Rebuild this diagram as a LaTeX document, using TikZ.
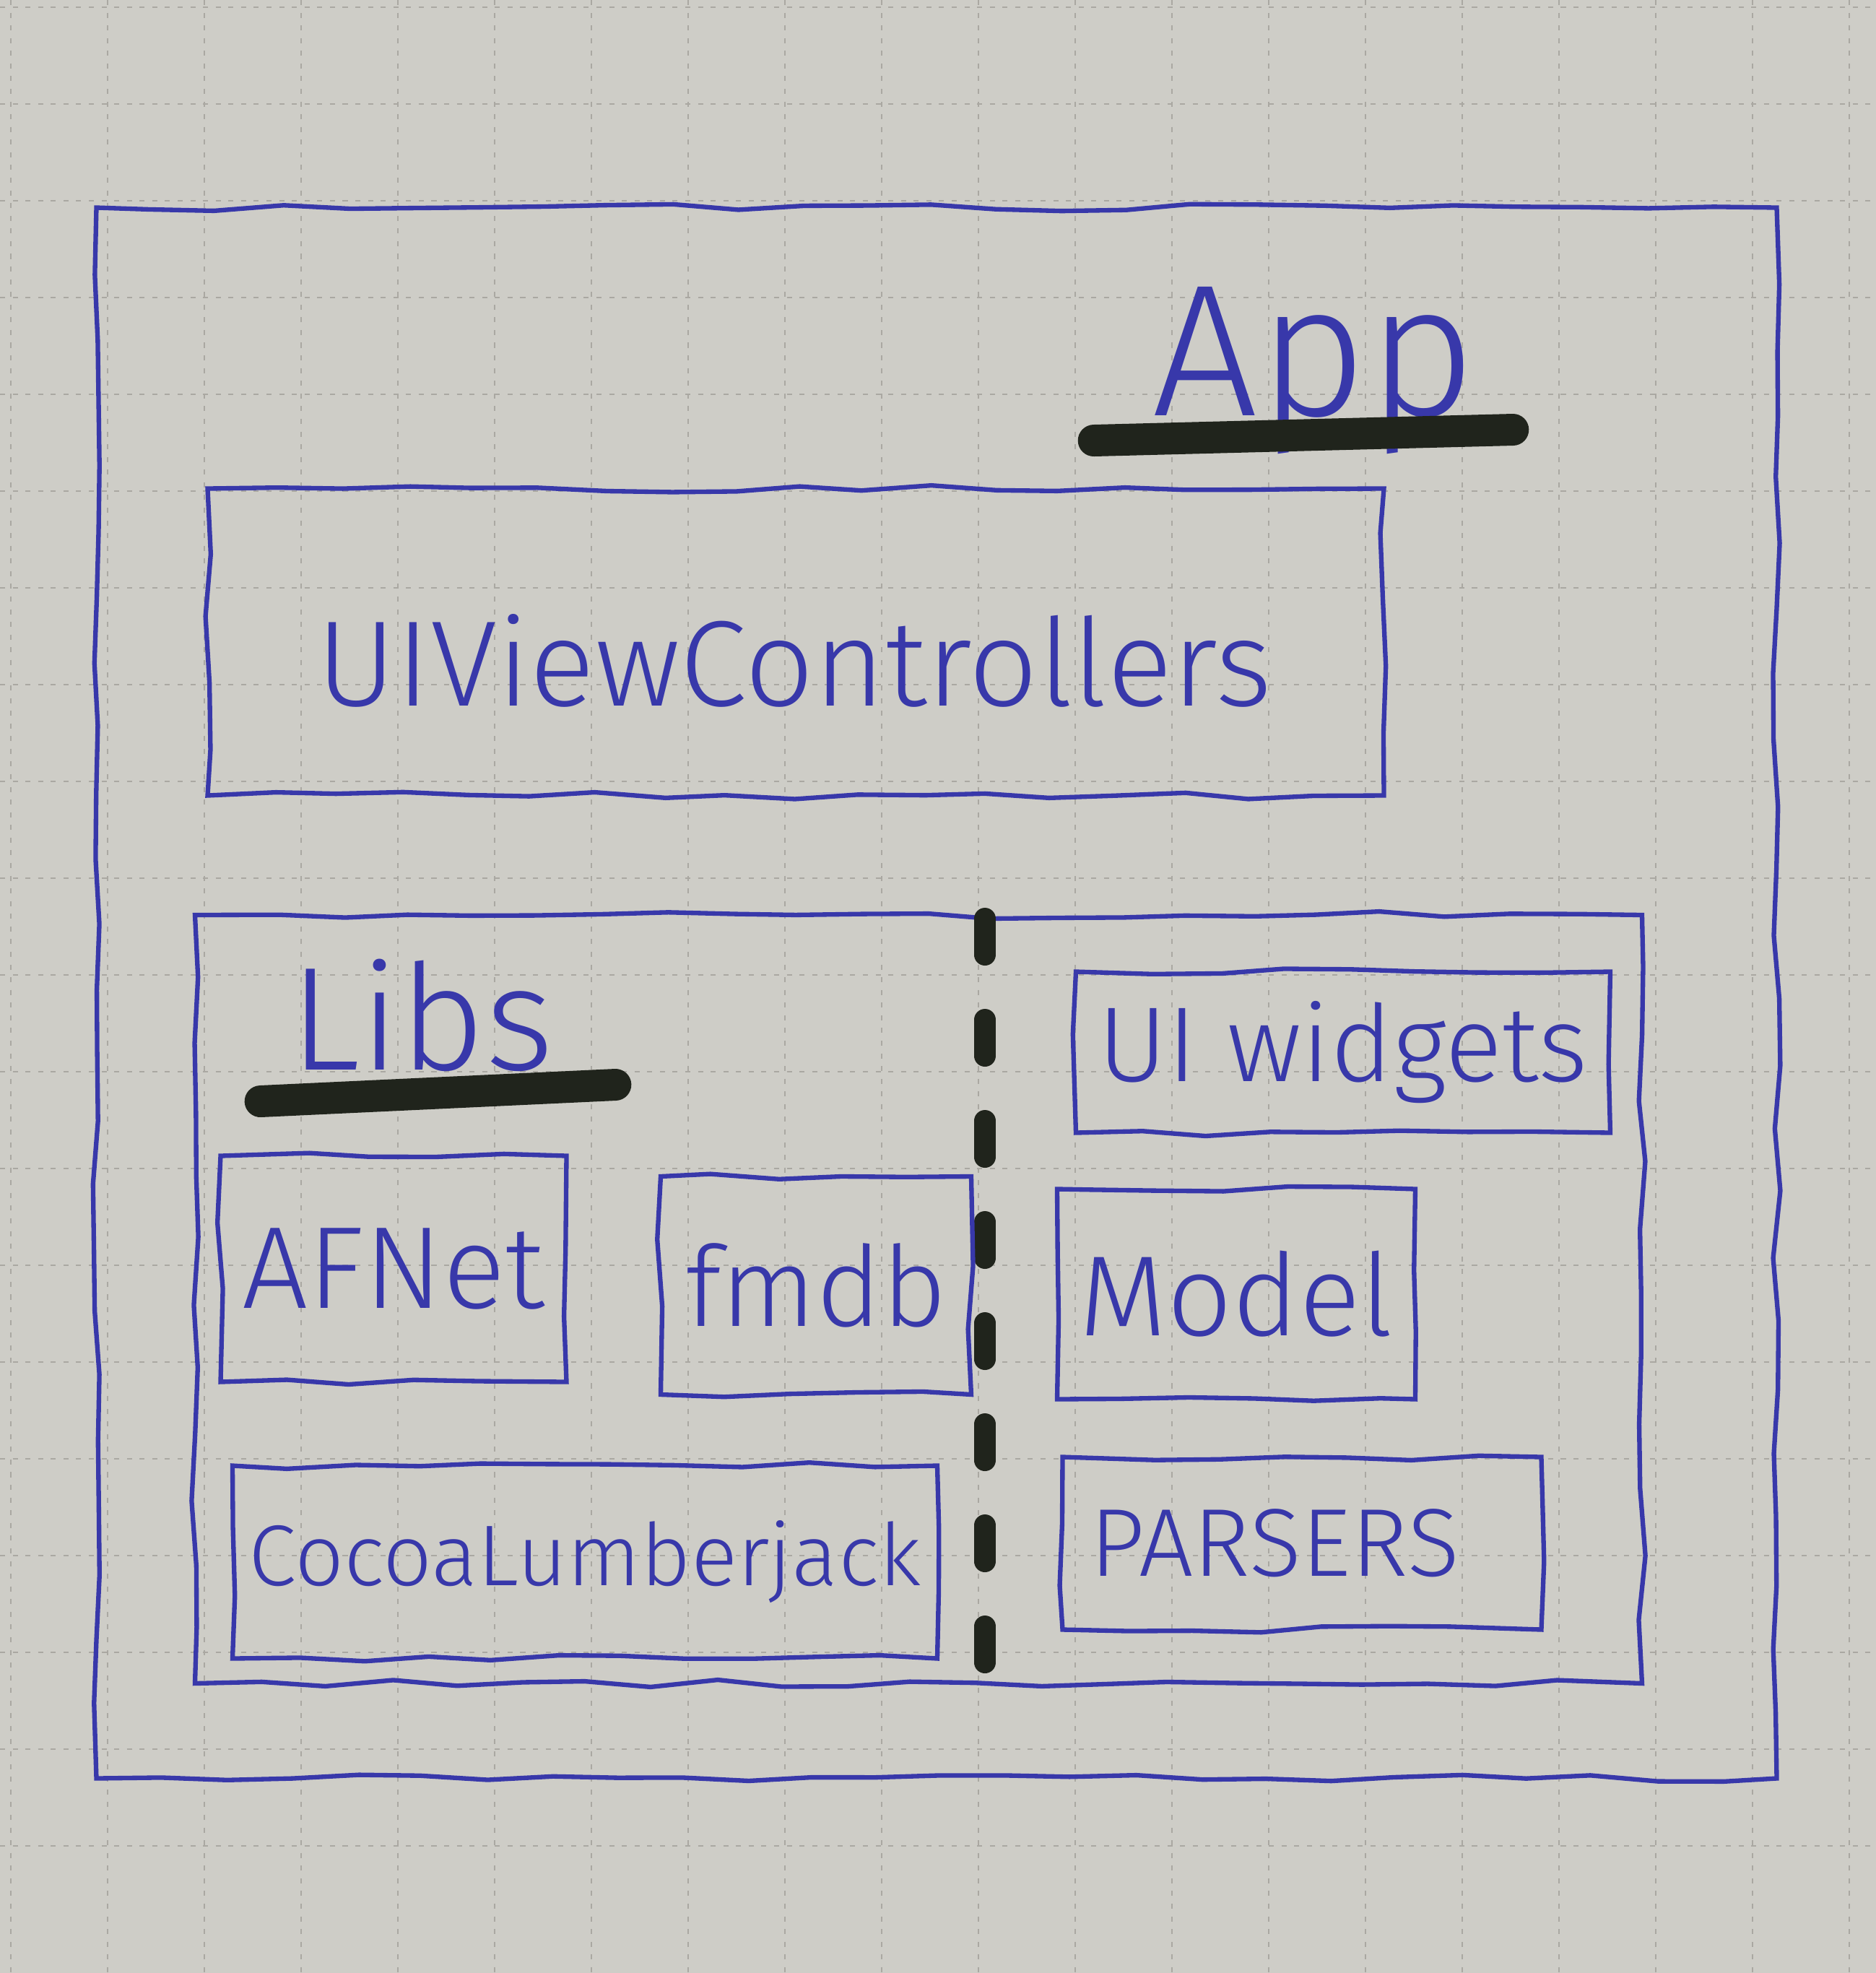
\documentclass[tikz,border=0pt]{standalone}
\usepackage{fontspec}
\setmainfont{Fira Sans}[UprightFont=* Light]
\usepackage{tikz}
\usetikzlibrary{decorations.pathmorphing}
\definecolor{paper}{RGB}{206,205,199}
\definecolor{gridgray}{RGB}{170,168,162}
\definecolor{ink}{RGB}{56,56,170}
\definecolor{marker}{RGB}{32,36,28}
\tikzset{
	sketch/.style={draw=ink, line width=1.8pt, decorate,
		decoration={random steps, segment length=0.9cm, amplitude=0.05cm}},
	libbox/.style args={#1:#2}{sketch, rectangle, inner sep=0pt,
		minimum width=#1cm, minimum height=#2cm, text=ink},
	handtext/.style={text=ink, inner sep=0pt, font=\fontsize{#1pt}{#1pt}\selectfont},
	underbar/.style={draw=marker, line width=0.44cm, line cap=round},
	divider/.style={draw=marker, line width=0.3cm, line cap=round,
		dash pattern=on 0.5cm off 0.9cm},
	gridline/.style={draw=gridgray, line width=0.7pt, dash pattern=on 2pt off 3pt}
}

\begin{document}
\begin{tikzpicture}
	\pgfmathsetseed{7}
	\useasboundingbox (0,0) rectangle (25.98,-27.32);
	\fill[paper] (0,0) rectangle (25.98,-27.32);
	
	% squared paper
	\foreach \i in {0,...,19} {
		\draw[gridline] ({0.15+1.34*\i},0) -- ++(0,-27.32);
		\draw[gridline] (0,{-0.10-1.34*\i}) -- ++(25.98,0);
	}
	
	% app frame
	\node[libbox=23.27:21.75] (app) at (12.97,-13.75) {};
	\node[handtext=74, anchor=base] (applabel) at (18.2,-5.75) {App};
	\draw[underbar] ([shift={(-0.8,-0.35)}]applabel.base west) -- ([shift={(0.5,-0.2)}]applabel.base east);
	
	\node[libbox=16.29:4.25] (uivc) at (11.02,-8.89) {};
	\node[handtext=48] (uivclabel) at (11.0,-9.15) {UIViewControllers};
	
	% libs frame
	\node[libbox=20.04:10.64] (libs) at (12.72,-17.99) {};
	\node[handtext=58, anchor=base] (libslabel) at (5.84,-14.81) {Libs};
	\draw[underbar] ([shift={(-0.4,-0.44)}]libslabel.base west) -- ([shift={(0.85,-0.21)}]libslabel.base east);
	
	\coordinate (divtop) at (13.64,-12.72);
	\coordinate (divbot) at (13.64,-23.14);
	\draw[divider] (divtop) -- (divbot);
	
	% third party
	\node[libbox=4.79:3.13, handtext=46] (afnet) at (5.45,-17.57) {AFNet};
	\node[libbox=4.3:3.02, handtext=44] (fmdb) at (11.3,-17.8) {fmdb};
	\node[libbox=9.76:2.67, handtext=34] (cocoa) at (8.10,-21.63) {CocoaLumberjack};
	
	% own code
	\node[libbox=7.40:2.23, handtext=42] (widgets) at (18.60,-14.57) {UI widgets};
	\node[libbox=4.96:2.91, handtext=45] (model) at (17.12,-17.92) {Model};
	\node[libbox=6.63:2.39] (parsers) at (18.03,-21.37) {};
	\node[handtext=38] (parserslabel) at (17.65,-21.37) {PARSERS};
	
\end{tikzpicture}
\end{document}
